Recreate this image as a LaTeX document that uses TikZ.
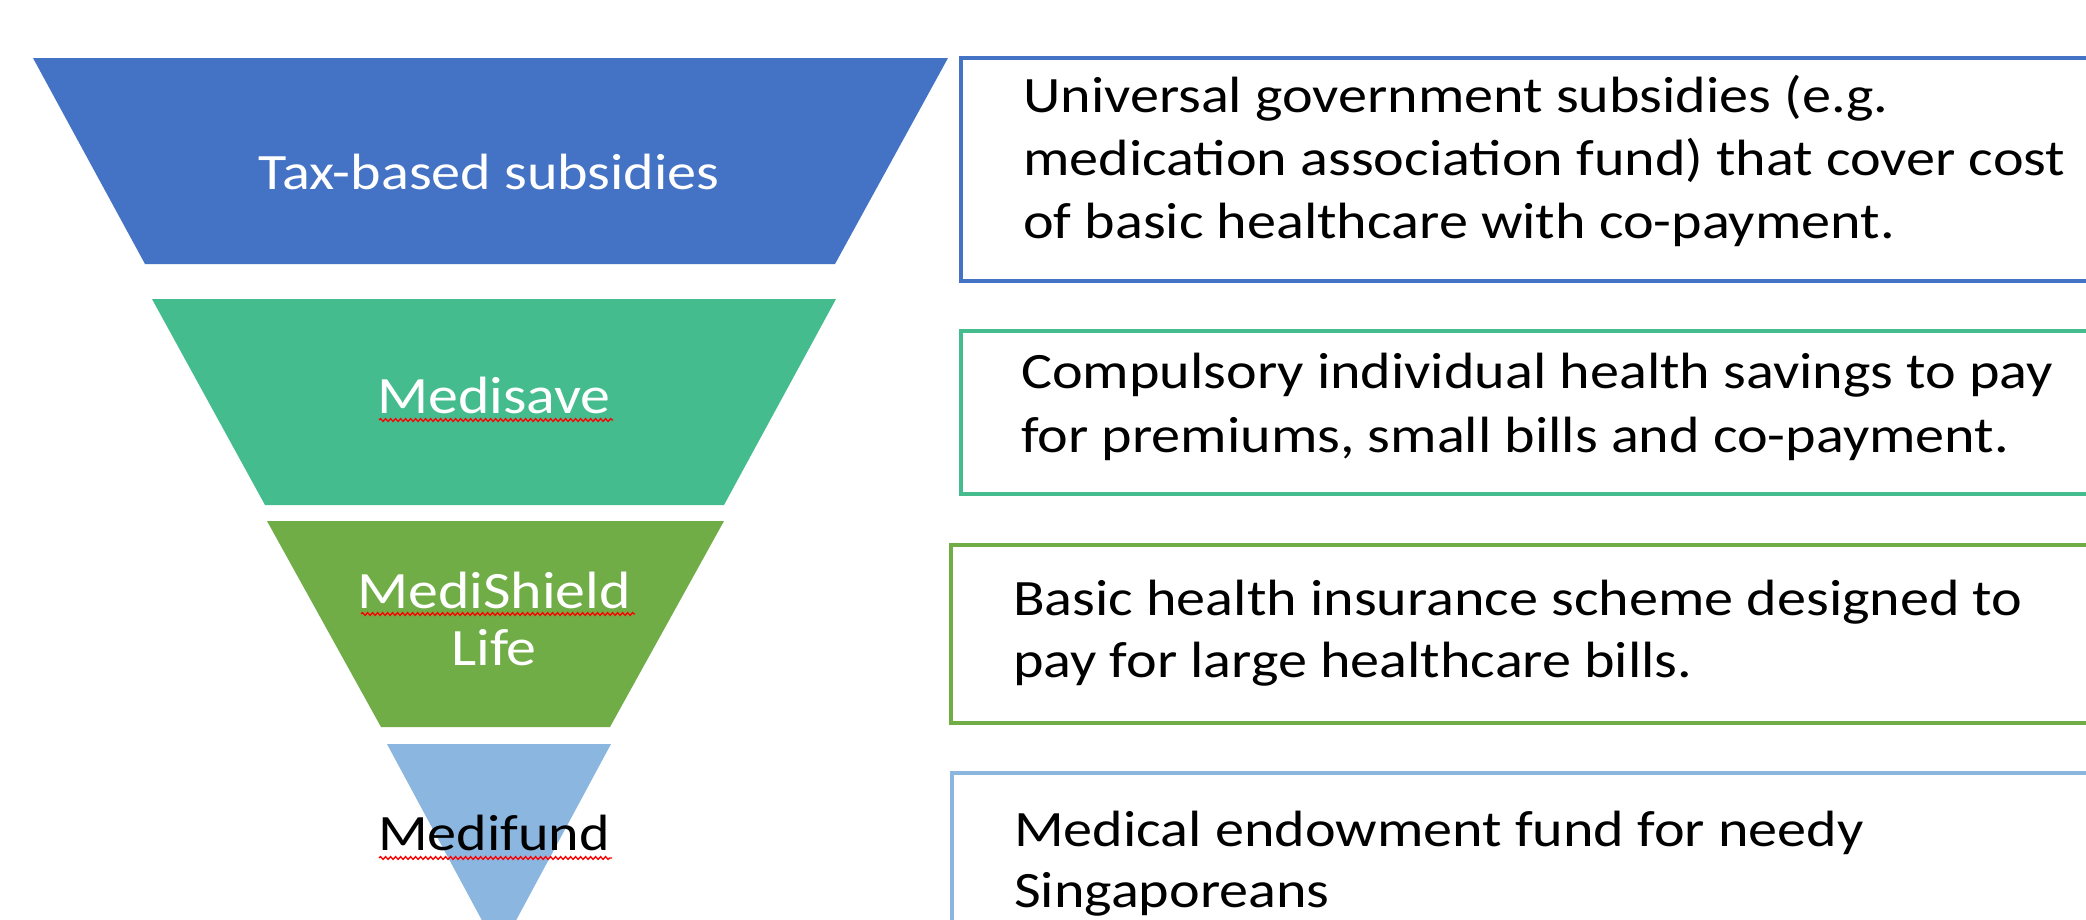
\documentclass[tikz,border=0pt]{standalone}
\usepackage{fontspec}
\setmainfont{Carlito}[FakeStretch=1.14]
\usetikzlibrary{decorations.pathmorphing}
\definecolor{cblue}{HTML}{4472C4}
\definecolor{cteal}{HTML}{45BC8E}
\definecolor{cgreen}{HTML}{70AD47}
\definecolor{clight}{HTML}{8AB6E0}
\begin{document}
\begin{tikzpicture}[x=1pt,y=-1pt,
  desc/.style={inner sep=0pt, anchor=base west, align=left, font=\fontsize{51}{63}\selectfont},
  infobox/.style={draw=#1, line width=4pt, fill=white, anchor=north west, inner sep=0pt},
  lab/.style={inner sep=0pt, anchor=base, align=center},
  squig/.style={draw=red, line width=1.3pt, decorate, decoration={snake, amplitude=1.4pt, segment length=5pt}}]
\clip (0,0) rectangle (2086,919);
\fill[white] (0,0) rectangle (2086,919);
% funnel
\fill[cblue] (33,58) -- (948,58) -- (835,264) -- (145,264) -- cycle;
\fill[cteal] (152,299) -- (836,299) -- (724,505) -- (265,505) -- cycle;
\fill[cgreen] (267,521) -- (724,521) -- (610,727) -- (381,727) -- cycle;
\fill[clight] (387,744) -- (611,744) -- (499,952) -- cycle;
\node[lab, text=white, font=\fontsize{51}{62}\selectfont] (l1) at (489,189) {Tax-based subsidies};
\node[lab, text=white, font=\fontsize{52.5}{60}\selectfont] (l2) at (494,413) {Medisave};
\node[lab, text=white, font=\fontsize{52.5}{57}\selectfont] (l3) at (494,608) {MediShield};
\node[lab, text=white, font=\fontsize{52.5}{57}\selectfont] (l3b) at (494,665) {Life};
\node[lab, text=black, font=\fontsize{51}{58}\selectfont] (l4) at (494,850) {Medifund};
\draw[squig] (379,420) -- (613,420);
\draw[squig] (361,614) -- (635,614);
\draw[squig] (379,858) -- (612,858);
% boxes
\node[infobox=cblue, minimum width=1141pt, minimum height=223pt] (b1) at (959,56) {};
\node[infobox=cteal, minimum width=1141pt, minimum height=163pt] (b2) at (959,329) {};
\node[infobox=cgreen, minimum width=1151pt, minimum height=178pt] (b3) at (949,543) {};
\node[infobox=clight, minimum width=1150pt, minimum height=180pt] (b4) at (950,771) {};
\node[desc] (t1) at (1023,238) {Universal government subsidies (e.g.\\medication association fund) that cover cost\\of basic healthcare with co-payment.};
\node[desc, font=\fontsize{51}{64}\selectfont] (t2) at (1021,452) {Compulsory individual health savings to pay\\for premiums, small bills and co-payment.};
\node[desc, font=\fontsize{51}{62}\selectfont] (t3) at (1013,677) {Basic health insurance scheme designed to\\pay for large healthcare bills.};
\node[desc, font=\fontsize{51}{61}\selectfont] (t4) at (1014,907) {Medical endowment fund for needy\\Singaporeans};
\end{tikzpicture}
\end{document}
